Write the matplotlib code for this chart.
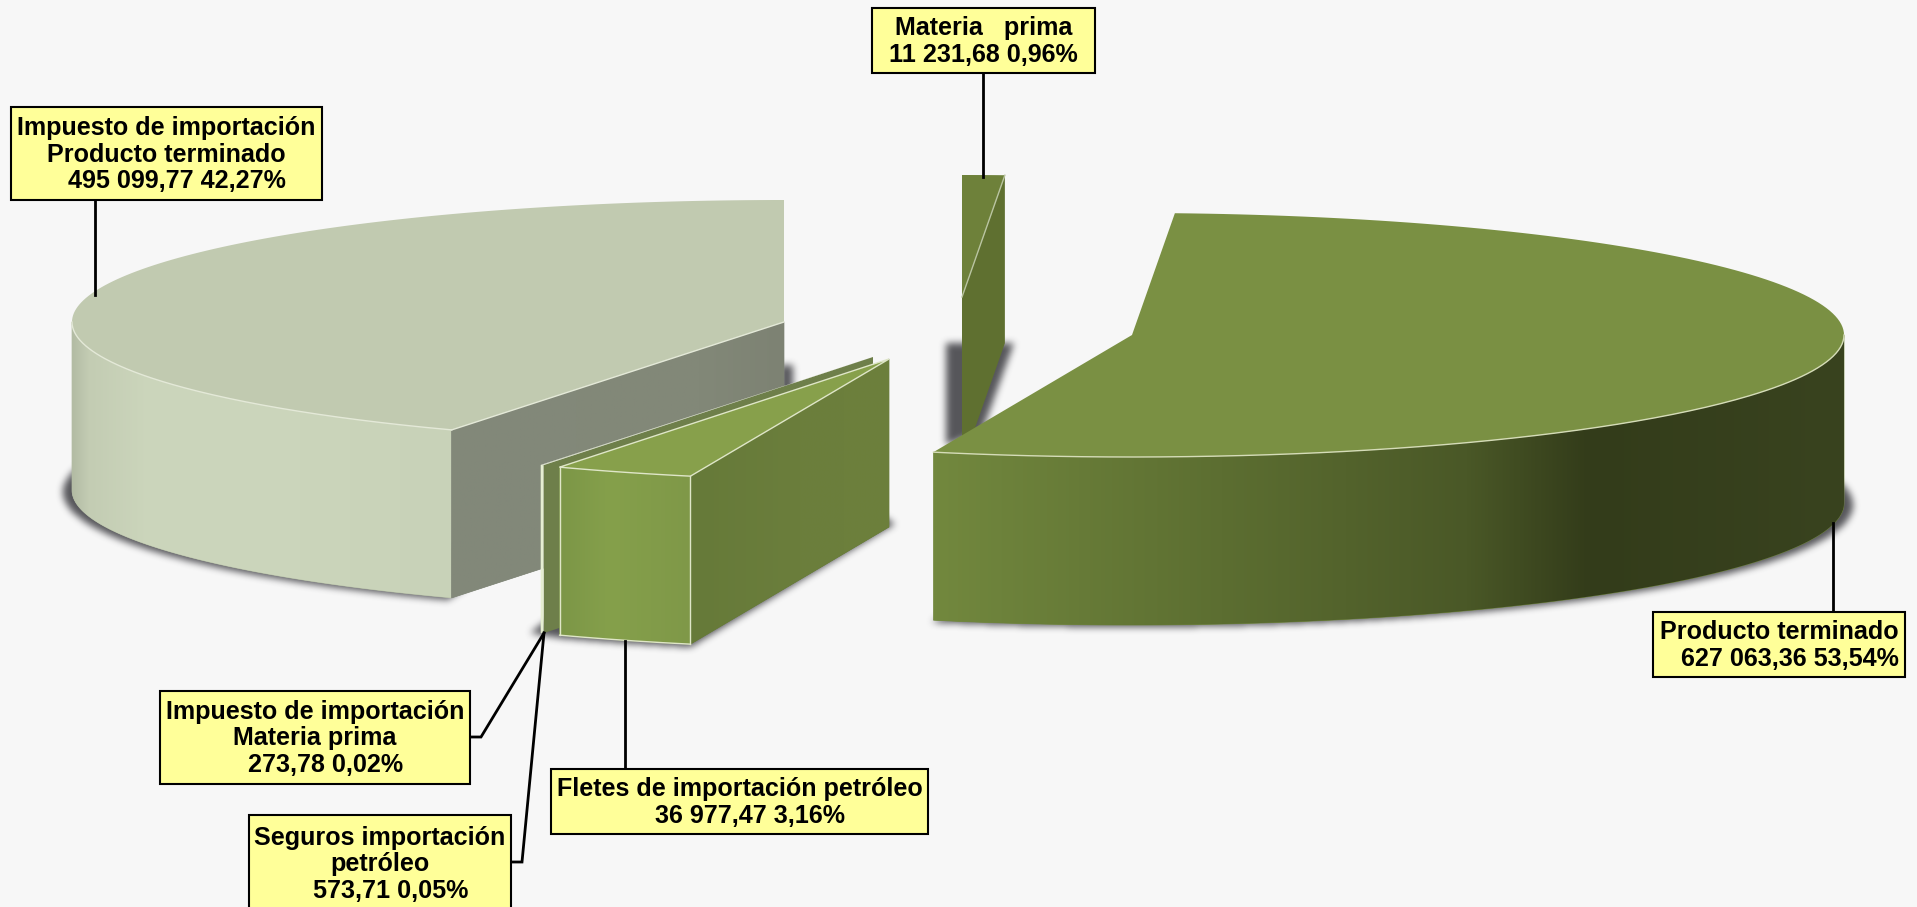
import numpy as np
import matplotlib
matplotlib.use('Agg')
import matplotlib.pyplot as plt
from matplotlib.colors import LinearSegmentedColormap
from matplotlib.patches import Polygon, Rectangle
from matplotlib.path import Path

# Chart data, in drawing order clockwise from 12 o'clock
categories = ['Materia prima', 'Producto terminado', 'Fletes de importación petróleo',
              'Seguros importación petróleo', 'Impuesto de importación Materia prima',
              'Impuesto de importación Producto terminado']
values = [11231.68, 627063.36, 36977.47, 573.71, 273.78, 495099.77]
label_texts = ['Materia   prima\n11 231,68 0,96%',
               'Producto terminado\n   627 063,36 53,54%',
               'Fletes de importación petróleo\n   36 977,47 3,16%',
               'Seguros importación\npetróleo\n   573,71 0,05%',
               'Impuesto de importación\nMateria prima\n   273,78 0,02%',
               'Impuesto de importación\nProducto terminado\n   495 099,77 42,27%']

# Layout in pixels: exploded centre of each slice (x, y)
centres = [(962, 297), (1132, 335), (889, 359), (873, 357), (873, 357), (784, 322)]
RX, RY, DEPTH = 712, 122, 168
W, H = 1917, 907

# Label boxes (x0, y0, x1, y1) and leader lines
boxes = [(872, 8, 1095, 73), (1653, 612, 1905, 677), (551, 769, 928, 834),
         (249, 815, 511, 912), (160, 691, 470, 784), (11, 107, 322, 200)]
leaders = [[(983, 73), (983, 177)], [(1833, 612), (1833, 523)], [(625, 769), (625, 641)],
           [(511, 862), (522, 862), (544, 633)], [(470, 737), (481, 737), (544, 633)],
           [(95, 200), (95, 295)]]

BG = '#f7f7f7'
EDGE = '#dfe6c8'

plt.rcParams['font.family'] = ['Liberation Sans', 'DejaVu Sans']
fig = plt.figure(figsize=(W / 100, H / 100), dpi=100, facecolor=BG)
ax = fig.add_axes([0, 0, 1, 1])
ax.set_axis_off()


def arc(centre, t0, t1, dy=0, rx=RX, ry=RY, n=150):
    # t is in degrees clockwise from the top of the ellipse
    t = np.radians(np.linspace(t0, t1, n))
    return np.column_stack([centre[0] + rx * np.sin(t), centre[1] + dy - ry * np.cos(t)])


def wall(top):
    # side face hanging below a top edge
    return np.vstack([top, (top + [0, DEPTH])[::-1]])


def fill(points, color, z=2, edge='none', lw=0):
    ax.add_patch(Polygon(points, closed=True, facecolor=color, edgecolor=edge, linewidth=lw, zorder=z))


def gradient_fill(points, xs, colors, z=2):
    # flat polygon underneath so no seam shows at the clip edge
    fill(points, colors[0], z=z - 0.01, edge=colors[0], lw=0.5)
    x0, x1 = min(xs), max(xs)
    stops = [(x - x0) / (x1 - x0) for x in xs]
    cmap = LinearSegmentedColormap.from_list('wall', list(zip(stops, colors)))
    y0, y1 = points[:, 1].min(), points[:, 1].max()
    im = ax.imshow(np.linspace(0, 1, 512).reshape(1, -1), cmap=cmap, aspect='auto',
                   extent=(x0, x1, y1, y0), interpolation='bilinear', zorder=z)
    im.set_clip_path(Polygon(points, closed=True, transform=ax.transData))


def box_blur(a, size, axis):
    c = np.cumsum(a, axis=axis)
    pad = size // 2
    c = np.concatenate([np.take(c, [0] * (pad + 1), axis=axis), c,
                        np.take(c, [-1] * pad, axis=axis)], axis=axis)
    n = a.shape[axis]
    return (np.take(c, range(size, n + size), axis=axis) - np.take(c, range(0, n), axis=axis)) / size


def soft_shadow(outlines, size=7, strength=0.82, color=(0.2, 0.2, 0.22)):
    # rasterise the outlines, blur them, lay the result under the slices
    yy, xx = np.mgrid[0:H, 0:W]
    grid = np.column_stack([xx.ravel() + 0.5, yy.ravel() + 0.5])
    mask = np.zeros((H, W))
    for outline in outlines:
        mask[Path(outline).contains_points(grid).reshape(H, W)] = 1
    for _ in range(3):
        mask = box_blur(box_blur(mask, size, 0), size, 1)
    rgba = np.zeros((H, W, 4))
    rgba[..., :3] = color
    rgba[..., 3] = mask * strength
    ax.imshow(rgba, extent=(0, W, H, 0), aspect='auto', interpolation='nearest', zorder=1)


# Start and end angle of each slice from the values
shares = np.array(values) / sum(values) * 360
ends = np.cumsum(shares)
starts = ends - shares
c_mat, c_prod, c_flet, c_seg, c_imp, c_left = centres

# Shadows on the floor
left_base = arc(c_left, ends[4], 284, dy=DEPTH + 2, rx=RX + 9)
right_base = arc(c_prod, 75, ends[1], dy=DEPTH + 2, rx=RX + 9)
flet_base = arc(c_flet, starts[2], ends[2], dy=DEPTH + 3)
soft_shadow([
    np.vstack([left_base, left_base[-1] + [50, -10], left_base[0] + [60, -40]]),
    np.vstack([right_base, right_base[-1] + [60, -30], right_base[0] + [-60, -30]]),
    np.array([(780, 365), (793, 365), (793, 420), (780, 420)]),
    np.vstack([[(c_flet[0] + 6, c_flet[1] + DEPTH - 3)], flet_base,
               [(530, 633), (560, 610), (860, 500)]]),
    np.array([(c_mat[0] - 16, 343), (1014, 343), (c_mat[0] + 20, 432), (c_mat[0] - 16, 445)]),
])

# Impuesto de importacion Producto terminado
top_left = np.vstack([[c_left], arc(c_left, starts[5], ends[5])])
gradient_fill(wall(arc(c_left, starts[5], 270)), [72, 88, 150, 300, 451],
              ['#b3bca4', '#c3ccb3', '#ccd6bc', '#cbd5bb', '#c8d2b8'])
inner = np.array([c_left, arc(c_left, starts[5], starts[5], n=1)[0]])
gradient_fill(wall(inner), [451, 700, 784], ['#82887a', '#828878', '#7d8273'])
fill(top_left, '#c1cab0', z=3)
ax.plot(*arc(c_left, starts[5], 270).T, color='#e4e9d8', lw=1, zorder=4)
ax.plot(*inner.T, color='#e4e9d8', lw=1, zorder=4)

# Materia prima
mat_edge = arc(c_mat, ends[0], ends[0], n=1)[0]
fill(wall(np.array([c_mat, mat_edge])), '#5f7030', z=5)
fill(np.vstack([[c_mat], arc(c_mat, starts[0], ends[0], n=5)]), '#6e813a', z=5.1)
ax.plot([c_mat[0], mat_edge[0]], [c_mat[1], mat_edge[1]], color='#b9c4a0', lw=1, zorder=5.2)

# Producto terminado
top_prod = np.vstack([[c_prod], arc(c_prod, starts[1], ends[1])])
gradient_fill(wall(arc(c_prod, 90, ends[1])), [934, 1222, 1467, 1589, 1844],
              ['#72883e', '#5c6e31', '#4a5827', '#333c1a', '#39431f'], z=6)
fill(top_prod, '#7a9043', z=7)
ax.plot(*arc(c_prod, 90, ends[1]).T, color='#d5dcb8', lw=1, zorder=8)

# The two very thin slices share one wall and one pale sliver
seg_edge = arc(c_seg, starts[3], starts[3], n=1)[0]
fill(wall(np.array([c_seg, seg_edge])), '#6e7f4a', z=9)
fill(wall(arc(c_seg, starts[3], ends[4], n=6)), '#e6eed2', z=9.1)
fill(np.vstack([[c_seg], arc(c_seg, starts[3], starts[4], n=3)]), '#e9f0d8', z=9.2)
fill(np.vstack([[c_imp], arc(c_imp, starts[4], ends[4], n=3)]), '#f2f6e8', z=9.2)

# Fletes de importacion petroleo
flet_arc = arc(c_flet, starts[2], ends[2])
gradient_fill(wall(flet_arc), [560, 610, 692], ['#7c9647', '#85a04b', '#7f9848'], z=10)
flet_side = np.array([c_flet, flet_arc[0]])
gradient_fill(wall(flet_side), [692, 800, 889], ['#667a39', '#6b7e3c', '#6d803c'], z=10)
fill(np.vstack([[c_flet], flet_arc]), '#87a04b', z=11, edge=EDGE, lw=1)
ax.plot(*np.column_stack([flet_arc[0], flet_arc[0] + [0, DEPTH]]), color=EDGE, lw=1, zorder=12)
ax.plot(*np.column_stack([flet_arc[-1], flet_arc[-1] + [0, DEPTH]]), color=EDGE, lw=1, zorder=12)
ax.plot(*(flet_arc + [0, DEPTH]).T, color=EDGE, lw=1, zorder=12)

# Labels and leaders
for box, text, line in zip(boxes, label_texts, leaders):
    x0, y0, x1, y1 = box
    ax.plot(*np.array(line).T, color='black', lw=2, zorder=13, solid_joinstyle='miter')
    ax.add_patch(Rectangle((x0, y0), x1 - x0, y1 - y0, facecolor='#ffff99', edgecolor='black',
                           linewidth=1.5, zorder=14))
    ax.text((x0 + x1) / 2, (y0 + y1) / 2 + 1, text, ha='center', va='center', multialignment='center',
            fontsize=18.1, fontweight='bold', linespacing=1.15, color='black', zorder=15)

ax.set_xlim(0, W)
ax.set_ylim(H, 0)
fig.savefig('out.png', dpi=100, facecolor=BG)
